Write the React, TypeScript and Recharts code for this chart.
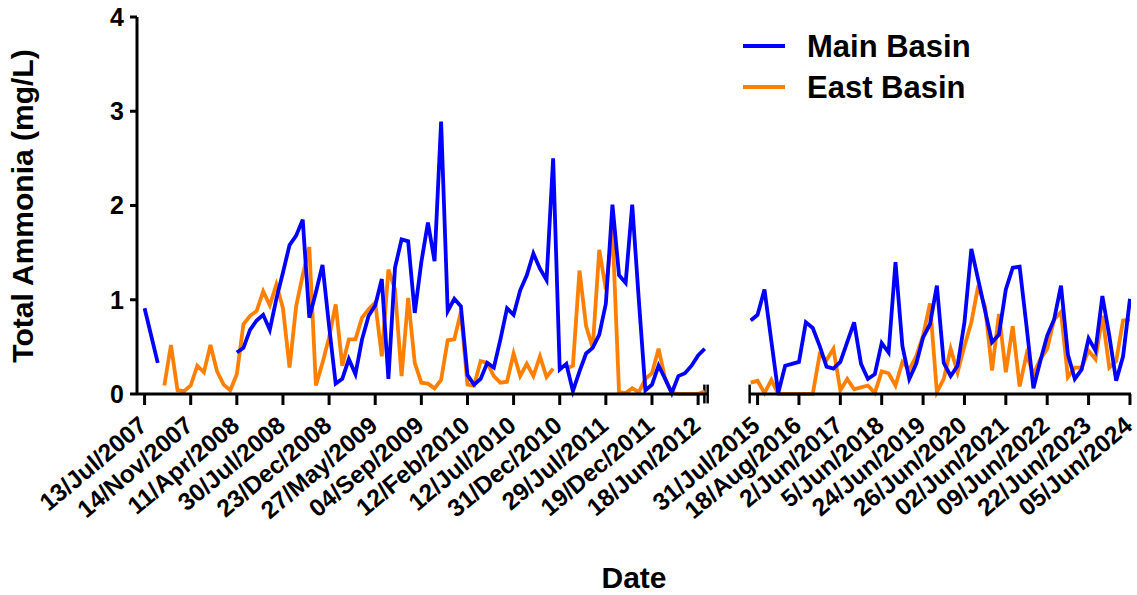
import React from 'react';
import { LineChart, Line, XAxis, YAxis, Legend, ReferenceLine } from 'recharts';

const FONT = '"Liberation Sans", Arial, Helvetica, sans-serif';
const BLUE = '#0000FF';
const ORANGE = '#FF8000';

// ---------- Left segment (2007-2012) ----------
const leftMain: (number | null)[] = [
  0.91, 0.62, 0.33, null, null, null, null, null, null, null,
  null, null, null, null, 0.44, 0.49, 0.68, 0.78, 0.84, 0.68,
  1.01, 1.29, 1.58, 1.68, 1.85, 0.81, 1.08, 1.37, 0.72, 0.11,
  0.16, 0.37, 0.21, 0.58, 0.83, 0.94, 1.22, 0.16, 1.34, 1.64,
  1.62, 0.86, 1.40, 1.82, 1.41, 2.89, 0.88, 1.01, 0.93, 0.20,
  0.10, 0.16, 0.33, 0.28, 0.58, 0.91, 0.84, 1.10, 1.26, 1.49,
  1.33, 1.21, 2.50, 0.26, 0.32, 0.03, 0.24, 0.43, 0.49, 0.63,
  0.96, 2.01, 1.26, 1.18, 2.01, 1.00, 0.04, 0.10, 0.30, 0.16,
  0.01, 0.19, 0.22, 0.30, 0.41, 0.48,
];
const leftEast: (number | null)[] = [
  null, null, null, 0.09, 0.52, 0.04, 0.03, 0.09, 0.30, 0.23,
  0.52, 0.24, 0.10, 0.04, 0.21, 0.74, 0.83, 0.88, 1.09, 0.94,
  1.16, 0.91, 0.28, 0.93, 1.26, 1.56, 0.09, 0.33, 0.60, 0.95,
  0.30, 0.58, 0.58, 0.81, 0.90, 0.97, 0.40, 1.32, 1.11, 0.19,
  1.02, 0.33, 0.12, 0.11, 0.06, 0.15, 0.57, 0.58, 0.87, 0.10,
  0.09, 0.35, 0.33, 0.19, 0.12, 0.13, 0.43, 0.19, 0.32, 0.19,
  0.40, 0.18, 0.27, null, 0.27, 0.30, 1.31, 0.72, 0.49, 1.53,
  1.11, 1.75, 0.02, 0.01, 0.06, 0.02, 0.16, 0.22, 0.48, 0.16,
  0.01, 0.00, 0.00, 0.00, 0.00, 0.03,
];
const leftTickIdx = [0, 7, 14, 21, 28, 35, 42, 49, 56, 63, 70, 77, 84];
const leftTickLabels = [
  '13/Jul/2007', '14/Nov/2007', '11/Apr/2008', '30/Jul/2008', '23/Dec/2008',
  '27/May/2009', '04/Sep/2009', '12/Feb/2010', '12/Jul/2010', '31/Dec/2010',
  '29/Jul/2011', '19/Dec/2011', '18/Jun/2012',
];

// ---------- Right segment (2015-2024) ----------
const rightMain: number[] = [
  0.78, 0.84, 1.11, 0.56, 0.01, 0.30, 0.32, 0.34, 0.76, 0.70,
  0.51, 0.29, 0.27, 0.34, 0.55, 0.76, 0.32, 0.16, 0.21, 0.54,
  0.44, 1.40, 0.51, 0.16, 0.32, 0.60, 0.74, 1.15, 0.33, 0.19,
  0.30, 0.76, 1.54, 1.21, 0.88, 0.55, 0.63, 1.11, 1.34, 1.35,
  0.72, 0.06, 0.35, 0.62, 0.79, 1.15, 0.42, 0.16, 0.26, 0.59,
  0.46, 1.04, 0.62, 0.14, 0.40, 1.01,
];
const rightEast: number[] = [
  0.12, 0.14, 0.01, 0.15, 0.00, 0.00, 0.00, 0.00, 0.00, 0.00,
  0.42, 0.36, 0.48, 0.04, 0.16, 0.05, 0.07, 0.09, 0.01, 0.24,
  0.22, 0.09, 0.34, 0.26, 0.40, 0.62, 0.96, 0.02, 0.16, 0.48,
  0.23, 0.51, 0.76, 1.15, 0.92, 0.25, 0.85, 0.23, 0.72, 0.08,
  0.42, 0.21, 0.37, 0.48, 0.79, 0.87, 0.18, 0.28, 0.28, 0.46,
  0.37, 0.83, 0.28, 0.35, 0.78, 0.79,
];
const rightTickIdx = [1, 7, 13, 19, 25, 31, 37, 43, 49, 55];
const rightTickLabels = [
  '31/Jul/2015', '18/Aug/2016', '2/Jun/2017', '5/Jun/2018', '24/Jun/2019',
  '26/Jun/2020', '02/Jun/2021', '09/Jun/2022', '22/Jun/2023', '05/Jun/2024',
];

const yTicks = [0, 1, 2, 3, 4];

const leftData = leftMain.map((v, i) => ({ i, main: v, east: leftEast[i] }));
const rightData = rightMain.map((v, i) => ({ i, main: v, east: rightEast[i] }));

const makeTick = (idxs: number[], labels: string[]) => (props: any) => {
  const { x, y, payload } = props;
  const k = idxs.indexOf(payload.value);
  const tx = x + 4;
  const ty = y + 19;
  return (
    <text
      x={tx}
      y={ty}
      transform={`rotate(-40, ${tx}, ${ty})`}
      textAnchor="end"
      fontFamily={FONT}
      fontWeight="bold"
      fontSize={24.5}
      fill="#000"
    >
      {k >= 0 ? labels[k] : ''}
    </text>
  );
};

const YTitle = () => (
  <text
    transform="translate(33, 206) rotate(-90)"
    x={0}
    y={0}
    textAnchor="middle"
    fontFamily={FONT}
    fontWeight="bold"
    fontSize={30}
    fill="#000"
  >
    Total Ammonia (mg/L)
  </text>
);

const DateTitle = () => (
  <text x={634} y={588} textAnchor="middle" fontFamily={FONT} fontWeight="bold" fontSize={30} fill="#000">
    Date
  </text>
);

const LegendBox = (props: any) => {
  const payload: any[] = props.payload || [];
  const order = ['main', 'east'];
  const items = order
    .map((k) => payload.find((p) => p.dataKey === k))
    .filter(Boolean);
  return (
    <svg width={300} height={90} style={{ display: 'block' }}>
      {items.map((it: any, r: number) => (
        <g key={it.dataKey}>
          <line x1={0} x2={42} y1={26 + r * 41} y2={26 + r * 41} stroke={it.color} strokeWidth={4} />
          <text x={64} y={37 + r * 41} fontFamily={FONT} fontWeight="bold" fontSize={31} fill="#000">
            {it.value}
          </text>
        </g>
      ))}
    </svg>
  );
};

const axisStyle = { stroke: '#000', strokeWidth: 3 };
const tickFont = { fontFamily: FONT, fontWeight: 'bold' as const, fontSize: 25, fill: '#000' };

export default function App() {
  return (
    <div style={{ position: 'absolute', left: 0, top: 0, width: 1137, height: 595, background: '#fff' }}>
      <div style={{ position: 'absolute', left: 0, top: 0 }}>
        <LineChart width={720} height={595} data={leftData} margin={{ top: 17, right: 12, bottom: 0, left: 0 }}>
          <XAxis
            dataKey="i"
            type="number"
            domain={[-1.15, 85.5]}
            allowDataOverflow
            ticks={leftTickIdx}
            interval={0}
            height={201}
            axisLine={axisStyle}
            tickLine={axisStyle}
            tickSize={11}
            tickMargin={4}
            tick={makeTick(leftTickIdx, leftTickLabels)}
            label={<DateTitle />}
          />
          <YAxis
            type="number"
            domain={[0, 4]}
            ticks={yTicks}
            interval={0}
            width={137}
            axisLine={axisStyle}
            tickLine={axisStyle}
            tickSize={7}
            tickMargin={6}
            tick={tickFont}
            label={<YTitle />}
          />
          <ReferenceLine segment={[{ x: 84.95, y: -0.1 }, { x: 84.95, y: 0.1 }]} stroke="#000" strokeWidth={2.5} ifOverflow="visible" />
          <ReferenceLine segment={[{ x: 85.45, y: -0.1 }, { x: 85.45, y: 0.1 }]} stroke="#000" strokeWidth={2.5} ifOverflow="visible" />
          <Line name="East Basin" dataKey="east" stroke={ORANGE} strokeWidth={3.8} dot={false} isAnimationActive={false} strokeLinejoin="miter" />
          <Line name="Main Basin" dataKey="main" stroke={BLUE} strokeWidth={3.8} dot={false} isAnimationActive={false} strokeLinejoin="miter" />
        </LineChart>
      </div>
      <div style={{ position: 'absolute', left: 600, top: 0 }}>
        <LineChart width={537} height={595} data={rightData} margin={{ top: 17, right: 6, bottom: 0, left: 149.3 }}>
          <XAxis
            dataKey="i"
            type="number"
            domain={[-0.2, 55.15]}
            allowDataOverflow
            ticks={rightTickIdx}
            interval={0}
            height={201}
            axisLine={axisStyle}
            tickLine={axisStyle}
            tickSize={11}
            tickMargin={4}
            tick={makeTick(rightTickIdx, rightTickLabels)}
          />
          <YAxis hide type="number" domain={[0, 4]} ticks={yTicks} />
          <ReferenceLine segment={[{ x: -0.15, y: -0.1 }, { x: -0.15, y: 0.1 }]} stroke="#000" strokeWidth={2.5} ifOverflow="visible" />
          <Legend
            layout="vertical"
            align="center"
            verticalAlign="middle"
            content={<LegendBox />}
            wrapperStyle={{ left: 143, top: 20, width: 300, height: 90, margin: 0 }}
          />
          <Line name="East Basin" dataKey="east" stroke={ORANGE} strokeWidth={3.8} dot={false} isAnimationActive={false} strokeLinejoin="miter" />
          <Line name="Main Basin" dataKey="main" stroke={BLUE} strokeWidth={3.8} dot={false} isAnimationActive={false} strokeLinejoin="miter" />
        </LineChart>
      </div>
    </div>
  );
}
